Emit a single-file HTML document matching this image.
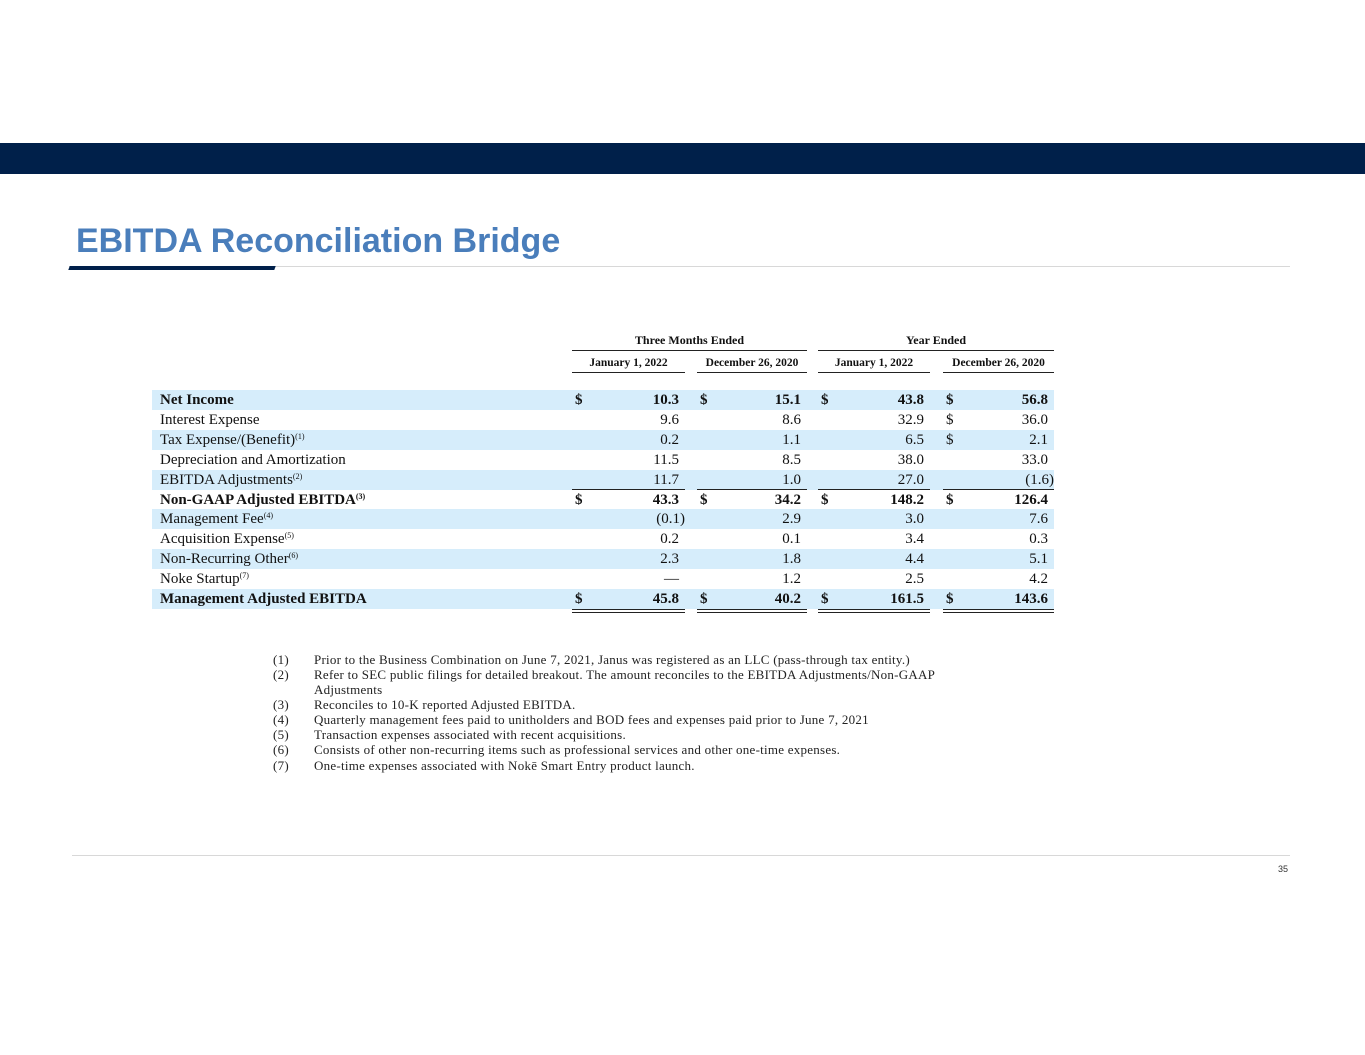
<!DOCTYPE html>
<html><head><meta charset="utf-8"><style>
body{margin:0;width:1365px;height:1055px;background:#fff;position:relative;overflow:hidden;font-family:"Liberation Serif",serif;}
.a{position:absolute;white-space:nowrap;}
.t{font-size:15px;color:#111;line-height:20px;}
.r{text-align:right;}
sup{font-size:8px;vertical-align:5px;line-height:0;}
.fn{font-size:13px;letter-spacing:0.25px;color:#222;line-height:15px;}
</style></head><body>
<div class="a" style="left:0;top:143px;width:1365px;height:31px;background:#00204a"></div>
<div class="a" style="left:76px;top:222px;font-family:'Liberation Sans',sans-serif;font-weight:bold;font-size:34px;color:#4a7ebb">EBITDA Reconciliation Bridge</div>
<div class="a" style="left:69px;top:266px;width:1221px;height:1px;background:#d8d8d8"></div>
<div class="a" style="left:69px;top:266px;width:206px;height:4px;background:#00204a;transform:skewX(-20deg)"></div>
<div class="a t" style="left:572px;top:331px;width:235px;text-align:center;font-size:12px;font-weight:bold;border-bottom:1px solid #222;line-height:19px">Three Months Ended</div>
<div class="a t" style="left:818px;top:331px;width:236px;text-align:center;font-size:12px;font-weight:bold;border-bottom:1px solid #222;line-height:19px">Year Ended</div>
<div id="tbl"></div>
<div class="a" style="left:72px;top:855px;width:1218px;height:1px;background:#d8d8d8"></div>
<div class="a" style="left:1278px;top:864px;font-family:'Liberation Sans',sans-serif;font-size:9px;color:#333">35</div>
<script>
const labels=["Net Income","Interest Expense","Tax Expense/(Benefit)<sup>(1)</sup>","Depreciation and Amortization","EBITDA Adjustments<sup>(2)</sup>","Non-GAAP Adjusted EBITDA<sup>(3)</sup>","Management Fee<sup>(4)</sup>","Acquisition Expense<sup>(5)</sup>","Non-Recurring Other<sup>(6)</sup>","Noke Startup<sup>(7)</sup>","Management Adjusted EBITDA"];
const dates=["January 1, 2022","December 26, 2020","January 1, 2022","December 26, 2020"];
const q4_2021=["10.3","9.6","0.2","11.5","11.7","43.3","(0.1)","0.2","2.3","—","45.8"];
const q4_2020=["15.1","8.6","1.1","8.5","1.0","34.2","2.9","0.1","1.8","1.2","40.2"];
const fy2021=["43.8","32.9","6.5","38.0","27.0","148.2","3.0","3.4","4.4","2.5","161.5"];
const fy2020=["56.8","36.0","2.1","33.0","(1.6)","126.4","7.6","0.3","5.1","4.2","143.6"];
const footnotes=["Prior to the Business Combination on June 7, 2021, Janus was registered as an LLC (pass-through tax entity.)","Refer to SEC public filings for detailed breakout. The amount reconciles to the EBITDA Adjustments/Non-GAAP<br>Adjustments","Reconciles to 10-K reported Adjusted EBITDA.","Quarterly management fees paid to unitholders and BOD fees and expenses paid prior to June 7, 2021","Transaction expenses associated with recent acquisitions.","Consists of other non-recurring items such as professional services and other one-time expenses.","One-time expenses associated with Nokē Smart Entry product launch."];
const bold=[0,5,10];
const tbl=document.getElementById('tbl');
const cols=[[572,685],[697,807],[818,930],[943,1054]];
const series=[q4_2021,q4_2020,fy2021,fy2020];
function mk(cls,style,html,name){const d=document.createElement('div');d.className=cls;d.style.cssText=style;d.innerHTML=html;


tbl.appendChild(d);return d;}
dates.forEach((t,i)=>{mk('a t','left:'+cols[i][0]+'px;top:354px;width:'+(cols[i][1]-cols[i][0])+'px;text-align:center;font-size:11.5px;font-weight:bold;border-bottom:1px solid #222;line-height:18px',t,'date-header');});
const y0=390,rh=19.9;
labels.forEach((l,r)=>{const y=y0+r*rh;const fw=bold.includes(r)?'bold':'normal';
if(r%2===0&&r!==5)mk('a','left:152px;top:'+y+'px;width:902px;height:20px;background:#d6edfb','','row-band');
mk('a t','left:160px;top:'+y+'px;font-weight:'+fw,l,'row-label');
const dollar=(r===0||bold.includes(r));
series.forEach((s,c)=>{const x0=cols[c][0],x1=cols[c][1];
if(dollar||(c===3&&(r===1||r===2)))mk('a t','left:'+(x0+3)+'px;top:'+y+'px;font-weight:'+fw,'$','dollar-sign');
mk('a t r','left:'+(x1-100)+'px;top:'+y+'px;width:'+(r===4&&c===3||r===6&&c===0?100:94)+'px;font-weight:'+fw,s[r],'value-cell');
if(r===5)mk('a','left:'+x0+'px;top:'+(y-1)+'px;width:'+(x1-x0)+'px;height:1px;background:#222','','subtotal-rule');
if(r===10)mk('a','left:'+x0+'px;top:'+(y+20)+'px;width:'+(x1-x0)+'px;height:2px;border-top:1px solid #222;border-bottom:1px solid #222','','total-double-rule');
});});
const fy=[652,667,697,712,727,742,758];
footnotes.forEach((f,i)=>{mk('a fn','left:273px;top:'+fy[i]+'px','('+(i+1)+')','footnote-number');
mk('a fn','left:314px;top:'+fy[i]+'px',f,'footnote-text');});
</script>
</body></html>
